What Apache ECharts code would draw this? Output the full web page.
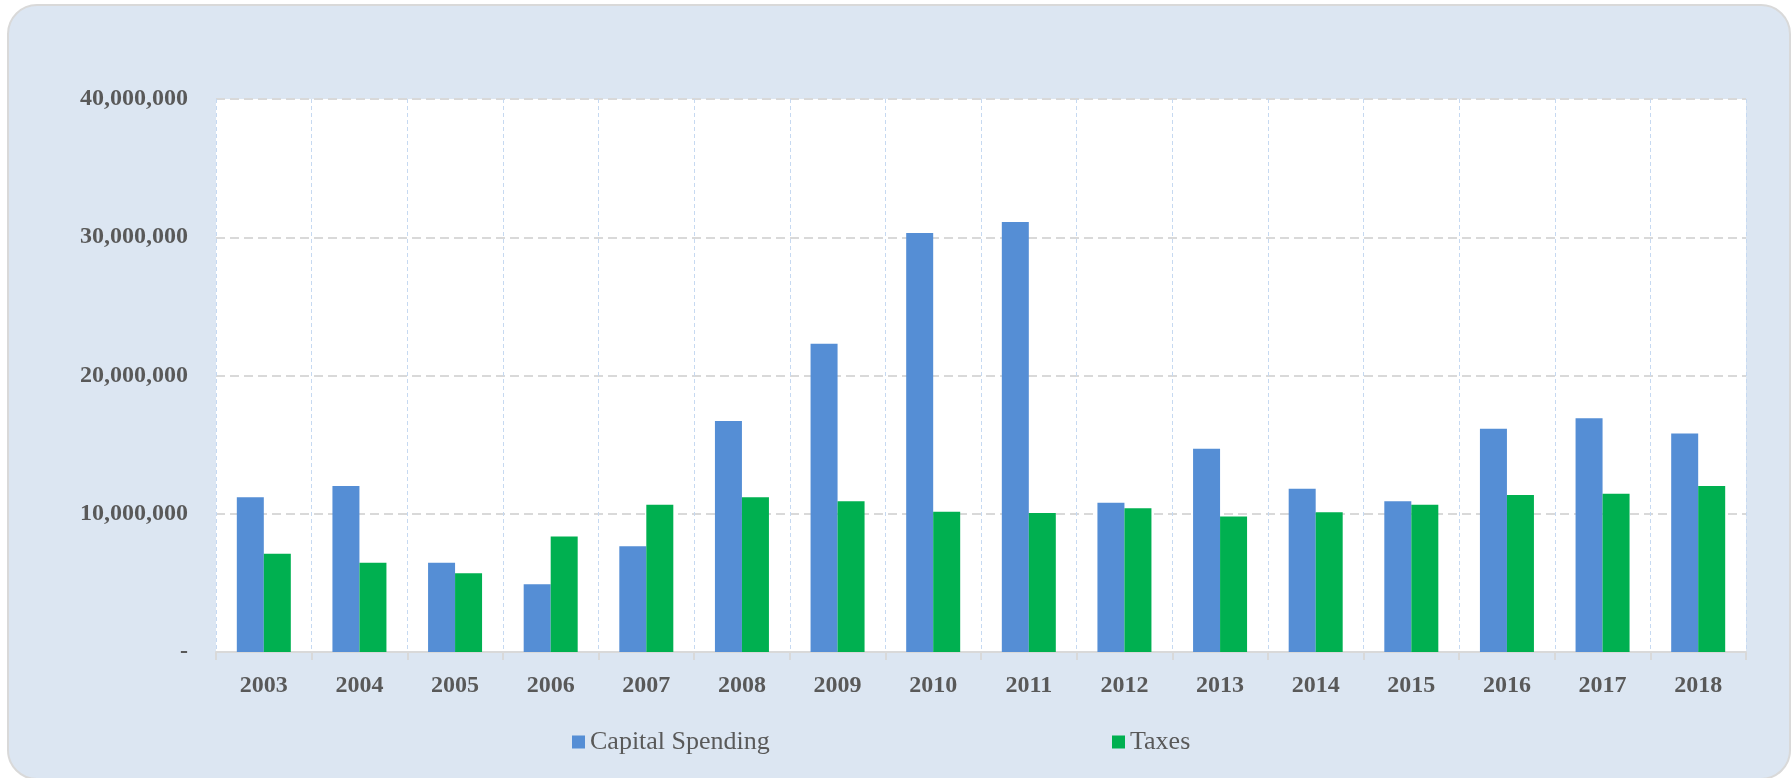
<!DOCTYPE html>
<html>
<head>
<meta charset="utf-8">
<title>Capital Spending vs Taxes</title>
<script src="https://cdn.jsdelivr.net/npm/echarts@6/dist/echarts.min.js"></script>
<style>
  html, body { margin: 0; padding: 0; background: #fff; }
  #card {
    position: absolute; left: 7px; top: 4px; width: 1780px; height: 772px;
    background: #dce6f2; border: 2px solid #d9d9d9; border-radius: 30px;
  }
  #main { position: absolute; left: 0; top: 0; width: 1791px; height: 778px; }
</style>
</head>
<body>
<div id="card"></div>
<div id="main"></div>
<script>
// 数据
var years = ['2003', '2004', '2005', '2006', '2007', '2008', '2009', '2010',
  '2011', '2012', '2013', '2014', '2015', '2016', '2017', '2018'];
var capitalSpending = [11200000, 12000000, 6450000, 4900000, 7650000, 16700000, 22300000, 30300000,
  31100000, 10800000, 14700000, 11800000, 10900000, 16150000, 16900000, 15800000];
var taxes = [7100000, 6450000, 5700000, 8350000, 10650000, 11200000, 10900000, 10150000,
  10050000, 10400000, 9800000, 10100000, 10650000, 11350000, 11450000, 12000000];
var yTicks = [0, 10000000, 20000000, 30000000, 40000000];

(function () {
  var myChart = echarts.init(document.getElementById('main'));
  var font = "'Liberation Serif', serif";

  var option = {
    backgroundColor: 'transparent',
    animation: false,
    textStyle: { fontFamily: font },
    grid: {
      left: 216,
      top: 99,
      right: 45,
      bottom: 126,
      show: true,
      backgroundColor: '#fff',
      borderWidth: 0
    },
    legend: [{
      left: 567,
      top: 724,
      itemWidth: 13,
      itemHeight: 13,
      icon: 'rect',
      data: ['Capital Spending'],
      textStyle: { fontFamily: font, fontSize: 26, color: '#595959' }
    }, {
      left: 1107,
      top: 724,
      itemWidth: 13,
      itemHeight: 13,
      icon: 'rect',
      data: ['Taxes'],
      textStyle: { fontFamily: font, fontSize: 26, color: '#595959' }
    }],
    xAxis: {
      type: 'category',
      data: years,
      axisLine: { lineStyle: { color: '#d9d9d9', width: 2 } },
      axisTick: { show: true, length: 8, lineStyle: { color: '#d9d9d9', width: 2 } },
      axisLabel: {
        margin: 22,
        fontFamily: font, fontSize: 24, fontWeight: 'bold', color: '#595959'
      },
      splitLine: {
        show: true,
        lineStyle: { type: [4, 3], color: '#c6d9f1', width: 1 }
      }
    },
    yAxis: {
      type: 'value',
      min: yTicks[0],
      max: yTicks[yTicks.length - 1],
      interval: yTicks[1] - yTicks[0],
      axisLine: { show: false },
      axisTick: { show: false },
      axisLabel: {
        margin: 28,
        fontFamily: font, fontSize: 24, fontWeight: 'bold', color: '#595959',
        formatter: function (v) {
          return v === 0 ? '-' : v.toLocaleString('en-US');
        }
      },
      splitLine: {
        lineStyle: { type: [9, 5], color: '#d9d9d9', width: 2 }
      }
    },
    series: [{
      name: 'Capital Spending',
      type: 'bar',
      data: capitalSpending,
      barWidth: 27,
      barGap: '0%',
      itemStyle: { color: '#558ed5' }
    }, {
      name: 'Taxes',
      type: 'bar',
      data: taxes,
      barWidth: 27,
      itemStyle: { color: '#00b050' }
    }]
  };

  myChart.setOption(option);
  window.addEventListener('resize', function () {
    myChart.resize();
  });
})();
</script>
</body>
</html>
